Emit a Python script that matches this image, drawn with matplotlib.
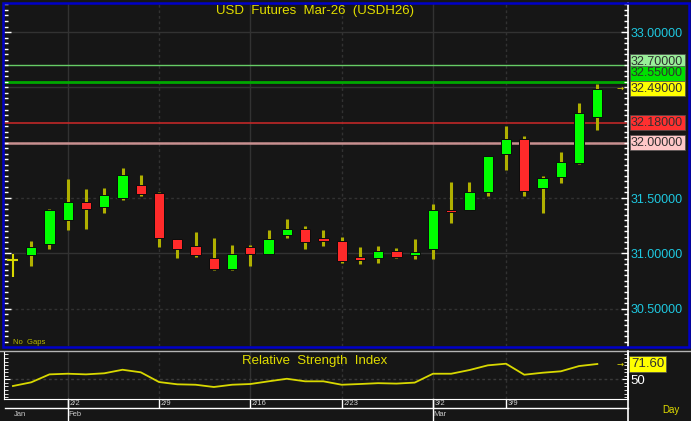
import matplotlib
matplotlib.use('Agg')
import matplotlib.pyplot as plt
from matplotlib.patches import Rectangle
from matplotlib.lines import Line2D
import matplotlib.transforms as mtransforms
from matplotlib.ticker import MultipleLocator, FixedLocator
import numpy as np

plt.rcParams['font.family'] = ['Liberation Sans', 'DejaVu Sans']

# ---------------- data ----------------
title = 'USD  Futures  Mar-26  (USDH26)'
opens = [30.939, 30.982, 31.081, 31.301, 31.461, 31.416, 31.500, 31.618, 31.542, 31.127,
         31.066, 30.958, 30.858, 31.057, 30.991, 31.165, 31.217, 31.141, 31.114, 30.967,
         30.960, 31.024, 30.985, 31.036, 31.392, 31.392, 31.557, 31.895, 32.031, 31.593,
         31.687, 31.814, 32.235]
highs = [30.994, 31.111, 31.401, 31.669, 31.579, 31.593, 31.769, 31.711, 31.552, 31.127,
         31.193, 31.141, 31.075, 31.075, 31.211, 31.310, 31.250, 31.211, 31.150, 31.057,
         31.066, 31.048, 31.127, 31.446, 31.647, 31.647, 31.880, 32.151, 32.061, 31.702,
         31.919, 32.356, 32.531]
lows = [30.788, 30.888, 31.042, 31.211, 31.217, 31.367, 31.482, 31.518, 31.057, 30.960,
        30.967, 30.846, 30.846, 30.888, 30.991, 31.141, 31.042, 31.066, 30.910, 30.901,
        30.910, 30.955, 30.948, 30.948, 31.271, 31.392, 31.518, 31.753, 31.518, 31.362,
        31.638, 31.805, 32.115]
closes = [30.939, 31.057, 31.392, 31.461, 31.401, 31.524, 31.708, 31.536, 31.141, 31.042,
          30.982, 30.858, 30.994, 30.994, 31.127, 31.217, 31.099, 31.111, 30.933, 30.942,
          31.024, 30.967, 31.014, 31.392, 31.371, 31.557, 31.880, 32.031, 31.566, 31.678,
          31.828, 32.271, 32.490]
rsi = [40.6, 45.8, 57.0, 57.9, 57.0, 58.5, 63.5, 59.9, 46.2, 43.0,
       42.4, 39.2, 42.4, 43.4, 47.2, 50.8, 47.2, 47.2, 42.4, 43.4,
       44.6, 44.0, 45.4, 57.9, 57.9, 63.1, 69.7, 72.0, 56.5, 59.3,
       61.3, 68.7, 71.6]
week_labels = ['2/2', '2/9', '2/16', '2/23', '3/2', '3/9']
week_idx = [3, 8, 13, 18, 23, 27]
month_labels = ['Jan', 'Feb', 'Mar']
month_idx = [0, 3, 23]
level_values = [32.70, 32.55, 32.18, 32.00]
price_ticks = [30.5, 31.0, 31.5, 33.0]
last_price = 32.49
rsi_last = 71.60
rsi_ticks = [50]

# ---------------- styles ----------------
BG = '#161616'
GRID = '#323232'
WICK = '#b0b000'
UP = '#00ff00'
DOWN = '#ff2a2a'
DOJI = '#d8d800'
CYAN = '#1ec8e0'
YEL = '#e0dc00'
level_line_colors = ['#66cc66', '#00a800', '#c02828', '#c89090']
level_line_widths = [1.0, 2.0, 1.2, 1.8]
level_box_colors = ['#99ee99', '#00e000', '#ff3030', '#ffc8c8']
level_offsets_pt = [2.6, 6.2, 0.0, 0.0]

W, H = 691, 421
fig = plt.figure(figsize=(W / 100, H / 100), dpi=100, facecolor=BG)


def fx(px):
    return px / W


def fy(py):
    return 1 - py / H


ax = fig.add_axes([fx(4), fy(346), fx(628) - fx(4), fy(3) - fy(346)])
rax = fig.add_axes([fx(4), fy(399), fx(628) - fx(4), fy(352) - fy(399)])
n = len(closes)
xs = np.arange(n)

for a in (ax, rax):
    a.set_facecolor(BG)
    a.set_xlim(-0.49, n - 1 + 1.68)
    for s in ('top', 'left'):
        a.spines[s].set_visible(False)
    a.spines['right'].set_color('white')
    a.spines['right'].set_linewidth(1.2)
    for k, i in enumerate(week_idx):
        a.axvline(i, color=GRID, lw=1, ls='-' if k % 2 == 0 else (0, (2, 2)), zorder=0)

# ---------------- main price panel ----------------
ax.set_ylim(30.162, 33.263)
ax.spines['bottom'].set_visible(False)
for v in np.arange(30.5, 33.01, 0.5):
    ax.axhline(v, color=GRID, lw=1, ls='-' if v in (31.0, 32.5, 33.0) else (0, (2, 2)), zorder=0)

bw = 0.56
for i in range(n):
    o, h, l, c = opens[i], highs[i], lows[i], closes[i]
    if c == o:
        ax.vlines(i, l, h, color=DOJI, lw=1.5, zorder=2)
        ax.hlines(c, i - 0.3, i + 0.3, color=DOJI, lw=1.5, zorder=3)
        continue
    ax.vlines(i, l, h, color=WICK, lw=2.2, zorder=2)
    ax.add_patch(Rectangle((i - bw / 2, min(o, c)), bw, abs(c - o),
                           fc=UP if c > o else DOWN, ec='#0c0c0c', lw=0.7, zorder=3))

blend = mtransforms.blended_transform_factory(ax.transAxes, ax.transData)
for v, lc, lw, bc, dy in zip(level_values, level_line_colors, level_line_widths,
                             level_box_colors, level_offsets_pt):
    ax.axhline(v, color=lc, lw=lw, zorder=1, xmax=0.997)
    ax.annotate(f'{v:.5f}', xy=(1, v), xycoords=blend, xytext=(2.2, dy),
                textcoords='offset points', ha='left', va='center', fontsize=9,
                color='#303030', annotation_clip=False,
                bbox=dict(boxstyle='square,pad=0.12', fc=bc, ec='#505050', lw=0.5))
ax.annotate(f'{last_price:.5f}', xy=(1, last_price), xycoords=blend, xytext=(2.2, 0),
            textcoords='offset points', ha='left', va='center', fontsize=9,
            color='#303030', annotation_clip=False,
            bbox=dict(boxstyle='square,pad=0.12', fc='#ffff00', ec='#505050', lw=0.5))
ax.text(n - 1 + 1.25, last_price, '→', fontsize=6, color=YEL, ha='center', va='center',
        family='DejaVu Sans')

ax.yaxis.set_major_locator(FixedLocator(price_ticks))
ax.yaxis.set_major_formatter(matplotlib.ticker.FormatStrFormatter('%.5f'))
ax.yaxis.set_minor_locator(MultipleLocator(0.05))
ax.tick_params(axis='y', which='both', left=True, right=True, direction='in',
               color='white', labelleft=False, labelright=True, labelcolor=CYAN,
               labelsize=9, pad=2)
ax.tick_params(axis='y', which='major', length=5, width=1)
ax.tick_params(axis='y', which='minor', length=3, width=1)
ax.tick_params(axis='x', which='both', bottom=False, labelbottom=False)

ax.text(0.498, 0.977, title, transform=ax.transAxes, ha='center', va='center',
        fontsize=9.5, color=YEL)
ax.text(0.0144, 0.011, 'No  Gaps', transform=ax.transAxes, ha='left', va='center',
        fontsize=5.5, color='#b8b800')

# ---------------- RSI panel ----------------
rax.set_ylim(22.3, 88.5)
rax.spines['bottom'].set_color('white')
rax.spines['left'].set_visible(True)
rax.spines['left'].set_color('white')
rax.axhline(50, color='#3a3a3a', lw=1, ls=(0, (2, 2)), zorder=0)
rax.plot(xs, rsi, color='#d8d800', lw=1.3, zorder=3)
rax.text(0.498, 0.81, 'Relative  Strength  Index', transform=rax.transAxes,
         ha='center', va='center', fontsize=9.5, color=YEL)
rblend = mtransforms.blended_transform_factory(rax.transAxes, rax.transData)
rax.annotate(f'{rsi_last:.2f}', xy=(1, rsi_last), xycoords=rblend, xytext=(2.2, 0),
             textcoords='offset points', ha='left', va='center', fontsize=9.5,
             color='#303030', annotation_clip=False,
             bbox=dict(boxstyle='square,pad=0.12', fc='#ffff00', ec='#505050', lw=0.5))
rax.text(n - 1 + 1.25, rsi_last, '→', fontsize=6, color=YEL, ha='center', va='center',
         family='DejaVu Sans')
rax.yaxis.set_major_locator(FixedLocator(rsi_ticks))
rax.yaxis.set_minor_locator(MultipleLocator(5))
rax.tick_params(axis='y', which='both', left=True, right=True, direction='in',
                color='white', labelleft=False, labelright=True, labelcolor='white',
                labelsize=9.5, pad=2)
rax.tick_params(axis='y', which='major', length=4)
rax.tick_params(axis='y', which='minor', length=3)
rax.set_xticks(week_idx)
rax.set_xticklabels([])
rax.tick_params(axis='x', which='major', direction='out', length=6.5, width=1, color='white')

xb = mtransforms.blended_transform_factory(rax.transData, fig.transFigure)
for lab, i in zip(week_labels, week_idx):
    rax.text(i + 0.08, fy(403.5), lab, transform=xb, ha='left', va='center',
             fontsize=5.5, color='#d0d0d0', clip_on=False)
for lab, i in zip(month_labels, month_idx):
    rax.text(i + 0.03, fy(414.5), lab, transform=xb, ha='left', va='center',
             fontsize=5.5, color='#c8c8c8', clip_on=False)
    if i > 0:
        rax.add_line(Line2D([i, i], [fy(399), 0], transform=xb, color='white',
                            lw=1, clip_on=False))

# ---------------- frame decorations ----------------
fig.add_artist(Rectangle((fx(2.5), fy(346.5)), fx(689) - fx(2.5), fy(2.5) - fy(346.5),
                         transform=fig.transFigure, fill=False, ec='#0000c8', lw=1.8))
fig.add_artist(Line2D([0, 1], [fy(350.5)] * 2, transform=fig.transFigure,
                      color='#b4b4b4', lw=1))
fig.add_artist(Line2D([fx(5), fx(628)], [fy(408)] * 2, transform=fig.transFigure,
                      color='white', lw=1))
fig.add_artist(Line2D([fx(628)] * 2, [fy(351), 0], transform=fig.transFigure,
                      color='white', lw=1.2))
fig.text(fx(671), fy(410), 'Day', ha='center', va='center', fontsize=7, color=YEL)

fig.savefig('out.png', dpi=100, facecolor=BG)
